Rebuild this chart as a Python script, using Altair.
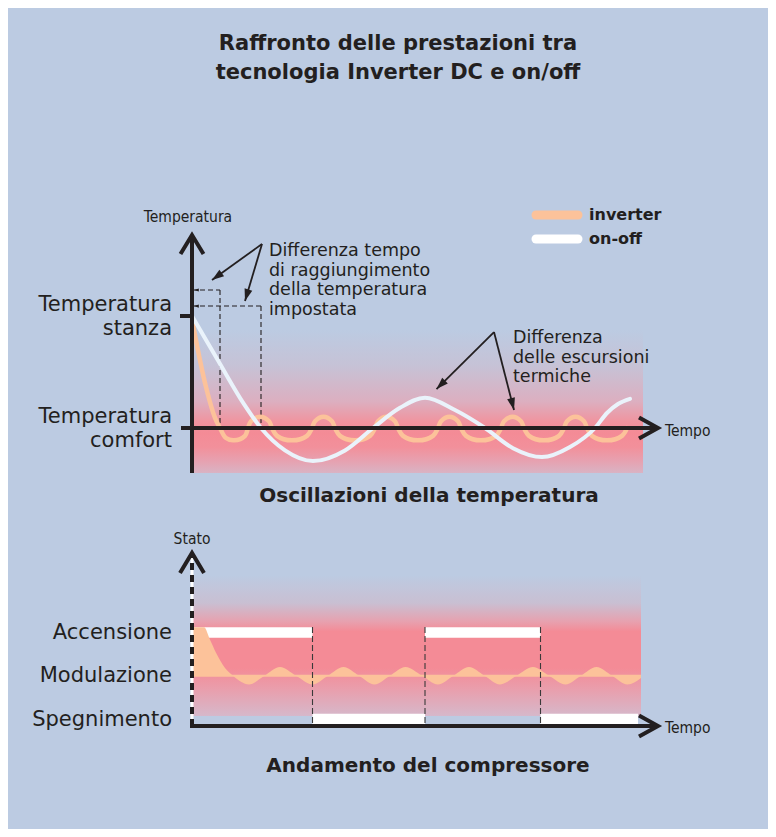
import math
import altair as alt
import pandas as pd

# ---------------- data ----------------
# Upper panel: time (arbitrary units) and temperature (0 = comfort, 1 = room temperature)
inv_time = [0, 0.4, 2.8, 4.6, 5.6, 6.8, 8.4, 10.6, 11.2,
            11.8, 13.6, 15.4, 16.0,
            17.0, 20.0, 23.0, 24.0,
            24.6, 26.3, 28.0, 28.6,
            29.6, 32.6, 35.6, 36.6,
            37.2, 38.9, 40.6, 41.2,
            42.2, 45.2, 48.2, 49.2,
            49.8, 51.5, 53.2, 53.8,
            54.8, 57.8, 60.8, 61.8,
            62.4, 64.1, 65.8, 66.4,
            67.4, 70.4, 73.4, 74.4,
            75.0, 76.7, 78.4, 79.0,
            80.0, 83.0, 86.0, 87.0]
inv_temp = [0.98, 0.875, 0.366, 0.09, 0.0, -0.09, -0.11, -0.07, 0.0,
            0.06, 0.10, 0.06, 0.0,
            -0.07, -0.11, -0.07, 0.0,
            0.06, 0.10, 0.06, 0.0,
            -0.07, -0.11, -0.07, 0.0,
            0.06, 0.10, 0.06, 0.0,
            -0.07, -0.11, -0.07, 0.0,
            0.06, 0.10, 0.06, 0.0,
            -0.07, -0.11, -0.07, 0.0,
            0.06, 0.10, 0.06, 0.0,
            -0.07, -0.11, -0.07, 0.0,
            0.06, 0.10, 0.06, 0.0,
            -0.07, -0.11, -0.07, 0.0]

onoff_time = [0, 5.5, 10.3, 13.8, 18.6, 24.2, 30.6, 36.2, 41.6, 46.6,
              52.6, 58.6, 64.2, 70.0, 75.6, 80.6, 83.0, 85.2, 87.6]
onoff_temp = [1.0, 0.58, 0.22, 0.0, -0.2, -0.295, -0.2, 0.0, 0.18, 0.27,
              0.16, 0.0, -0.18, -0.26, -0.17, 0.0, 0.134, 0.214, 0.26]

# time each technology needs to reach the set temperature, and height of its marker
reach_time = [5.6, 13.8]
reach_level = [1.232, 1.089]

# annotation arrows (apex -> tip) and texts
arrow_apex_t = [14.0, 14.0, 60.4, 60.4]
arrow_apex_v = [1.643, 1.643, 0.857, 0.857]
arrow_tip_t = [4.0, 10.6, 48.9, 64.4]
arrow_tip_v = [1.321, 1.134, 0.348, 0.161]
note_t = [15.4, 64.2]
note_v = [1.536, 0.759]
note_text = ["Differenza tempo\ndi raggiungimento\ndella temperatura\nimpostata",
             "Differenza\ndelle escursioni\ntermiche"]

temp_levels = [1, 0]
temp_labels = ["Temperatura\nstanza", "Temperatura\ncomfort"]

# Lower panel: compressor state (0 = off, 1 = modulation, 2 = on)
comp_inv_time = [0, 2.4, 3.6, 4.8, 6.6, 8.2,
                 11.4, 14.5, 17.6, 20.8, 24.1, 27.2, 30.3, 33.4, 36.5, 39.6,
                 42.7, 46.0, 49.2, 52.3, 55.4, 58.5, 61.6, 64.9, 68.2, 71.4,
                 74.7, 77.8, 80.9, 84.0, 87.1, 89.8]
comp_inv_state = [2.12, 2.12, 1.83, 1.53, 1.18, 1.0,
                  0.8, 1.0, 1.2, 1.0, 0.8, 1.0, 1.2, 1.0, 0.8, 1.0,
                  1.2, 1.0, 0.8, 1.0, 1.2, 1.0, 0.8, 1.0, 1.2, 1.0,
                  0.8, 1.0, 1.2, 1.0, 0.8, 0.95]
comp_onoff_start = [0, 24.1, 46.6, 69.7]
comp_onoff_end = [24.1, 46.6, 69.7, 89.2]
comp_onoff_state = [2, 0, 2, 0]

state_levels = [2, 1, 0]
state_labels = ["Accensione", "Modulazione", "Spegnimento"]

series_names = ["inverter", "on-off"]

# ---------------- layout / style ----------------
W, H = 760, 821
T_ORIGIN = 184          # chart x of time 0
T_PX = 5                # px per time unit
XDOM = [-T_ORIGIN / T_PX, (W - T_ORIGIN) / T_PX]
TOP_RANGE = [420, 308]  # chart y of temperature 0 and 1
TOP_VPX = 112
BOT_RANGE = [711, 624.5]  # chart y of state 0 and 2
BOT_VPX = 43.25

BG = "#BCCBE2"
INK = "#231F20"
ORANGE = "#FCC29A"
PALE = "#EAF3FB"
FONT = "DejaVu Sans"
NARROW = "'DejaVu Sans Condensed', 'DejaVu Sans', sans-serif"
HEAD = "M0,0L0.8,2.4L-0.8,2.4Z"


def xq(f="t"):
    return alt.X(f"{f}:Q", scale=alt.Scale(domain=XDOM, nice=False, zero=False), axis=None)


def yt(f="v"):
    return alt.Y(f"{f}:Q", scale=alt.Scale(domain=[0, 1], range=TOP_RANGE, nice=False, zero=False), axis=None)


def yb(f="s"):
    return alt.Y(f"{f}:Q", scale=alt.Scale(domain=[0, 2], range=BOT_RANGE, nice=False, zero=False), axis=None)


def grad(stops):
    return alt.Gradient(gradient="linear", x1=0, y1=0, x2=0, y2=1,
                        stops=[alt.GradientStop(offset=o, color=c) for o, c in stops])


def head_angle(t0, v0, t1, v1, vpx):
    dx = (t1 - t0) * T_PX
    dy = -(v1 - v0) * vpx
    return math.degrees(math.atan2(dx, -dy)) % 360


layers = []

# ---- upper panel ----
band_top = alt.Chart(pd.DataFrame({"t": [0], "t2": [90.2], "v": [0.875], "v2": [-0.402]})).mark_rect(
    fill=grad([(0, BG), (0.25, "#C6C2D6"), (0.5, "#DCAFC0"), (0.64, "#F0949F"),
               (0.72, "#F48B96"), (0.82, "#F2909B"), (0.92, "#E6A2B1"), (1, "#D9B3C4")])
).encode(x=xq(), x2="t2:Q", y=yt(), y2="v2:Q")
layers.append(band_top)

dash_h = alt.Chart(pd.DataFrame({"t": [0, 0], "t2": reach_time, "v": reach_level})).mark_rule(
    color=INK, strokeWidth=1.1, strokeDash=[5, 3]).encode(x=xq(), x2="t2:Q", y=yt())
dash_v = alt.Chart(pd.DataFrame({"t": reach_time, "v": reach_level, "v2": [0, 0]})).mark_rule(
    color=INK, strokeWidth=1.1, strokeDash=[5, 3]).encode(x=xq(), y=yt(), y2="v2:Q")
dash_head = alt.Chart(pd.DataFrame({"t": [0.4, 0.4], "v": reach_level})).mark_point(
    shape=HEAD, size=16, angle=270, filled=True, color=INK, opacity=1, strokeWidth=0
).encode(x=xq(), y=yt())
layers += [dash_h, dash_v, dash_head]

inv_line = alt.Chart(pd.DataFrame({"t": inv_time, "v": inv_temp})).mark_line(
    interpolate="catmull-rom", color=ORANGE, strokeWidth=4.5, strokeJoin="round", strokeCap="round"
).encode(x=xq(), y=yt())
onoff_line = alt.Chart(pd.DataFrame({"t": onoff_time, "v": onoff_temp})).mark_line(
    interpolate="monotone", color=PALE, strokeWidth=4, strokeCap="round"
).encode(x=xq(), y=yt())
layers += [inv_line, onoff_line]

axes_top = alt.Chart(pd.DataFrame({
    "t": [0, -2.2, -2.4], "t2": [0, 93.0, 0], "v": [-0.402, 0, 1], "v2": [1.70, 0, 1]
})).mark_rule(color=INK, strokeWidth=4, strokeCap="butt").encode(
    x=xq(), x2="t2:Q", y=yt(), y2="v2:Q")
chev_top = alt.Chart(pd.DataFrame({
    "g": ["u", "u", "u", "r", "r", "r"], "i": [0, 1, 2, 0, 1, 2],
    "t": [-2.3, 0, 2.3, 89.4, 93.2, 89.4], "v": [1.554, 1.723, 1.554, 0.094, 0, -0.094]
})).mark_line(color=INK, strokeWidth=4, strokeJoin="miter", strokeCap="butt").encode(
    x=xq(), y=yt(), detail="g:N", order="i:Q")
layers += [axes_top, chev_top]

arrows = pd.DataFrame({"t": arrow_apex_t, "v": arrow_apex_v, "t2": arrow_tip_t, "v2": arrow_tip_v})
arrows["a"] = [head_angle(a, b, c, d, TOP_VPX) for a, b, c, d in
               zip(arrow_apex_t, arrow_apex_v, arrow_tip_t, arrow_tip_v)]
arrow_lines = alt.Chart(arrows).mark_rule(color=INK, strokeWidth=1.8).encode(
    x=xq(), x2="t2:Q", y=yt(), y2="v2:Q")
arrow_heads = alt.Chart(arrows).mark_point(
    shape=HEAD, size=100, filled=True, color=INK, opacity=1, strokeWidth=0
).encode(x=xq("t2"), y=yt("v2"), angle=alt.Angle("a:Q", scale=None))
layers += [arrow_lines, arrow_heads]

notes = alt.Chart(pd.DataFrame({"t": note_t, "v": note_v, "txt": note_text})).mark_text(
    align="left", baseline="alphabetic", font=FONT, fontSize=17.5, color=INK,
    lineBreak="\n", lineHeight=19.7).encode(x=xq(), y=yt(), text="txt:N")
temp_lab = alt.Chart(pd.DataFrame({"t": [-4, -4], "v": temp_levels, "txt": temp_labels})).mark_text(
    align="right", baseline="alphabetic", font=FONT, fontSize=21, color=INK, dy=-5,
    lineBreak="\n", lineHeight=23.5).encode(x=xq(), y=yt(), text="txt:N")
layers += [notes, temp_lab]

# ---- lower panel ----
band_bot = alt.Chart(pd.DataFrame({"t": [0], "t2": [89.8], "s": [3.33], "s2": [0.069]})).mark_rect(
    fill=grad([(0, BG), (0.2, "#C9BFD2"), (0.33, "#E7A1AF"), (0.4, "#F48B96"),
               (0.66, "#F48B96"), (0.8, "#EA9DAB"), (1, "#D6B8CA")])
).encode(x=xq(), x2="t2:Q", y=yb(), y2="s2:Q")
layers.append(band_bot)

bars = alt.Chart(pd.DataFrame({"t": comp_onoff_start, "t2": comp_onoff_end, "s": comp_onoff_state})).mark_rule(
    color="white", strokeWidth=10.5, strokeCap="butt").encode(x=xq(), x2="t2:Q", y=yb())
comp_area = alt.Chart(pd.DataFrame({"t": comp_inv_time, "s": comp_inv_state})).mark_area(
    interpolate="monotone", color=ORANGE, opacity=1).encode(x=xq(), y=yb(), y2=alt.datum(1))
mod_line = alt.Chart(pd.DataFrame({"t": [0], "t2": [89.8], "s": [1]})).mark_rule(
    color=ORANGE, strokeWidth=2).encode(x=xq(), x2="t2:Q", y=yb())
switches = alt.Chart(pd.DataFrame({"t": comp_onoff_start[1:], "s": [2.127] * 3, "s2": [-0.162] * 3})).mark_rule(
    color="#3A3A3A", strokeWidth=1.1, strokeDash=[6, 3]).encode(x=xq(), y=yb(), y2="s2:Q")
layers += [bars, comp_area, mod_line, switches]

axis_b_under = alt.Chart(pd.DataFrame({"t": [0], "s": [-0.162], "s2": [3.75]})).mark_rule(
    color="white", strokeWidth=3).encode(x=xq(), y=yb(), y2="s2:Q")
axis_b_dash = alt.Chart(pd.DataFrame({"t": [0], "s": [-0.162], "s2": [3.80]})).mark_rule(
    color=INK, strokeWidth=4, strokeDash=[7, 5]).encode(x=xq(), y=yb(), y2="s2:Q")
axis_b_h = alt.Chart(pd.DataFrame({"t": [-0.4], "t2": [93.0], "s": [-0.162]})).mark_rule(
    color=INK, strokeWidth=4, strokeCap="butt").encode(x=xq(), x2="t2:Q", y=yb())
chev_bot = alt.Chart(pd.DataFrame({
    "g": ["u", "u", "u", "r", "r", "r"], "i": [0, 1, 2, 0, 1, 2],
    "t": [-2.4, 0, 2.4, 89.4, 93.2, 89.4], "s": [3.376, 3.838, 3.376, 0.081, -0.162, -0.405]
})).mark_line(color=INK, strokeWidth=4, strokeJoin="miter", strokeCap="butt").encode(
    x=xq(), y=yb(), detail="g:N", order="i:Q")
layers += [axis_b_under, axis_b_dash, axis_b_h, chev_bot]

state_lab = alt.Chart(pd.DataFrame({"t": [-4] * 3, "s": state_levels, "txt": state_labels})).mark_text(
    align="right", baseline="alphabetic", font=FONT, fontSize=21, color=INK, dy=6.5
).encode(x=xq(), y=yb(), text="txt:N")
layers.append(state_lab)

# ---- legend ----
leg = pd.DataFrame({"name": series_names, "row": [0, 1]})
leg_scale_y = alt.Scale(domain=[0, 1], range=[207, 231])
leg_sw = alt.Chart(leg).mark_rule(strokeWidth=9, strokeCap="round").encode(
    x=alt.value(528), x2=alt.value(570),
    y=alt.Y("row:Q", scale=leg_scale_y, axis=None),
    color=alt.Color("name:N", scale=alt.Scale(domain=series_names, range=[ORANGE, "white"]), legend=None))
leg_tx = alt.Chart(leg).mark_text(align="left", baseline="middle", font=FONT, fontSize=16,
                                  fontWeight="bold", color=INK).encode(
    x=alt.value(581), y=alt.Y("row:Q", scale=leg_scale_y, axis=None), text="name:N")
layers += [leg_sw, leg_tx]


# ---- titles ----
def label(txt, x, y, size, weight="normal", font=FONT, align="center", lh=None):
    kw = dict(align=align, baseline="alphabetic", font=font, fontSize=size, fontWeight=weight,
              color=INK, lineBreak="\n")
    if lh:
        kw["lineHeight"] = lh
    return alt.Chart(pd.DataFrame({"txt": [txt]})).mark_text(**kw).encode(
        x=alt.value(x), y=alt.value(y), text="txt:N")


layers += [
    label("Raffronto delle prestazioni tra\ntecnologia Inverter DC e on/off", 390, 42, 21, "bold", lh=29),
    label("Oscillazioni della temperatura", 421, 494, 20, "bold"),
    label("Andamento del compressore", 420, 764, 20, "bold"),
    label("Temperatura", 180, 214, 15.5, font=NARROW),
    label("Stato", 184, 536, 15.5, font=NARROW),
    label("Tempo", 657, 428, 15.5, font=NARROW, align="left"),
    label("Tempo", 657, 725, 15.5, font=NARROW, align="left"),
]

chart = alt.layer(*layers).properties(
    width=W, height=H, padding=0, background=BG,
    autosize=alt.AutoSizeParams(type="none"),
).resolve_scale(y="independent").configure_view(stroke=None)

chart.save("out.html", embed_options={"renderer": "svg", "actions": False})
